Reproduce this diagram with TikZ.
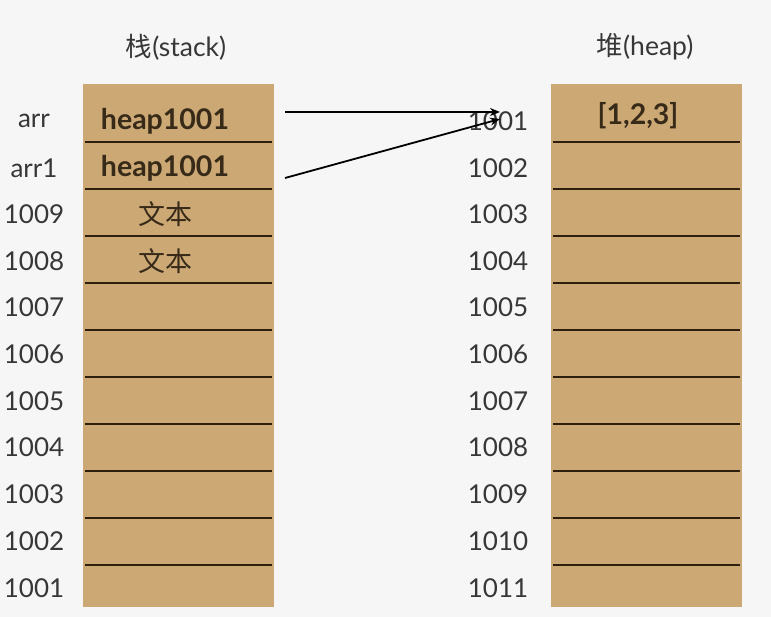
\documentclass[tikz,border=0pt]{standalone}
\usepackage{fontspec}
\setmainfont{Lato}
\newfontfamily\cjk{Noto Sans CJK SC}
\usetikzlibrary{arrows.meta}
\definecolor{bg}{RGB}{246,246,246}
\definecolor{tan}{RGB}{203,168,116}
\definecolor{rowln}{RGB}{45,30,14}
\definecolor{lbl}{RGB}{55,55,55}
\definecolor{cont}{RGB}{55,42,25}
\tikzset{
  colbox/.style={fill=tan, draw=none, inner sep=0pt, minimum width=191pt, minimum height=523pt},
  rowline/.style={draw=rowln, line width=2.6pt},
  addr/.style={text=lbl, font=\fontsize{26}{30}\selectfont, anchor=center},
  title/.style={text=lbl, font=\fontsize{26.5}{30}\selectfont},
  content/.style={text=cont, font=\fontsize{28.5}{32}\selectfont\bfseries},
  cjkcontent/.style={text=cont, font=\fontsize{27}{30}\selectfont\cjk},
  ptr/.style={draw=black, line width=1.8pt, -{Stealth[length=10pt,width=8pt]}}
}
\begin{document}
\begin{tikzpicture}[x=1pt,y=-1pt]
\useasboundingbox (0,0) rectangle (771,617);
\fill[bg] (0,0) rectangle (771,617);
% titles
\node[title] (tstack) at (176,47) {{\cjk 栈}(stack)};
\node[title] (theap) at (645,47) {{\cjk 堆}(heap)};
% columns
\node[colbox] (stack) at (178.5,345.5) {};
\node[colbox] (heap) at (646.5,345.5) {};
% row separators
\foreach \yy in {142,189,236,283,330,377,424,471,518,565}{
  \draw[rowline] (85,\yy) -- (272,\yy);
  \draw[rowline] (553,\yy) -- (740,\yy);
}
% stack address labels
\foreach \t/\yy/\n in {arr/121/s1, arr1/168/s2, 1009/214/s3, 1008/261/s4, 1007/307/s5, 1006/354/s6, 1005/401/s7, 1004/447/s8, 1003/494/s9, 1002/541/s10, 1001/588/s11}{
  \node[addr] (\n) at (34,\yy) {\t};
}
% heap address labels
\foreach \t/\yy/\n in {1001/121/h1, 1002/168/h2, 1003/214/h3, 1004/261/h4, 1005/307/h5, 1006/354/h6, 1007/401/h7, 1008/447/h8, 1009/494/h9, 1010/541/h10, 1011/588/h11}{
  \node[addr] (\n) at (498,\yy) {\t};
}
% contents
\node[content] (c1) at (165,121) {heap1001};
\node[content] (c2) at (165,168) {heap1001};
\node[cjkcontent] (c3) at (165,214) {文本};
\node[cjkcontent] (c4) at (165,261) {文本};
\node[content] (c5) at (638,116) {[1,2,3]};
% pointers
\coordinate (a1s) at (285,112);
\coordinate (a1e) at (500,112);
\coordinate (a2s) at (285,178);
\coordinate (a2e) at (500,119);
\draw[ptr] (a1s) -- (a1e);
\draw[ptr] (a2s) -- (a2e);
\end{tikzpicture}
\end{document}
